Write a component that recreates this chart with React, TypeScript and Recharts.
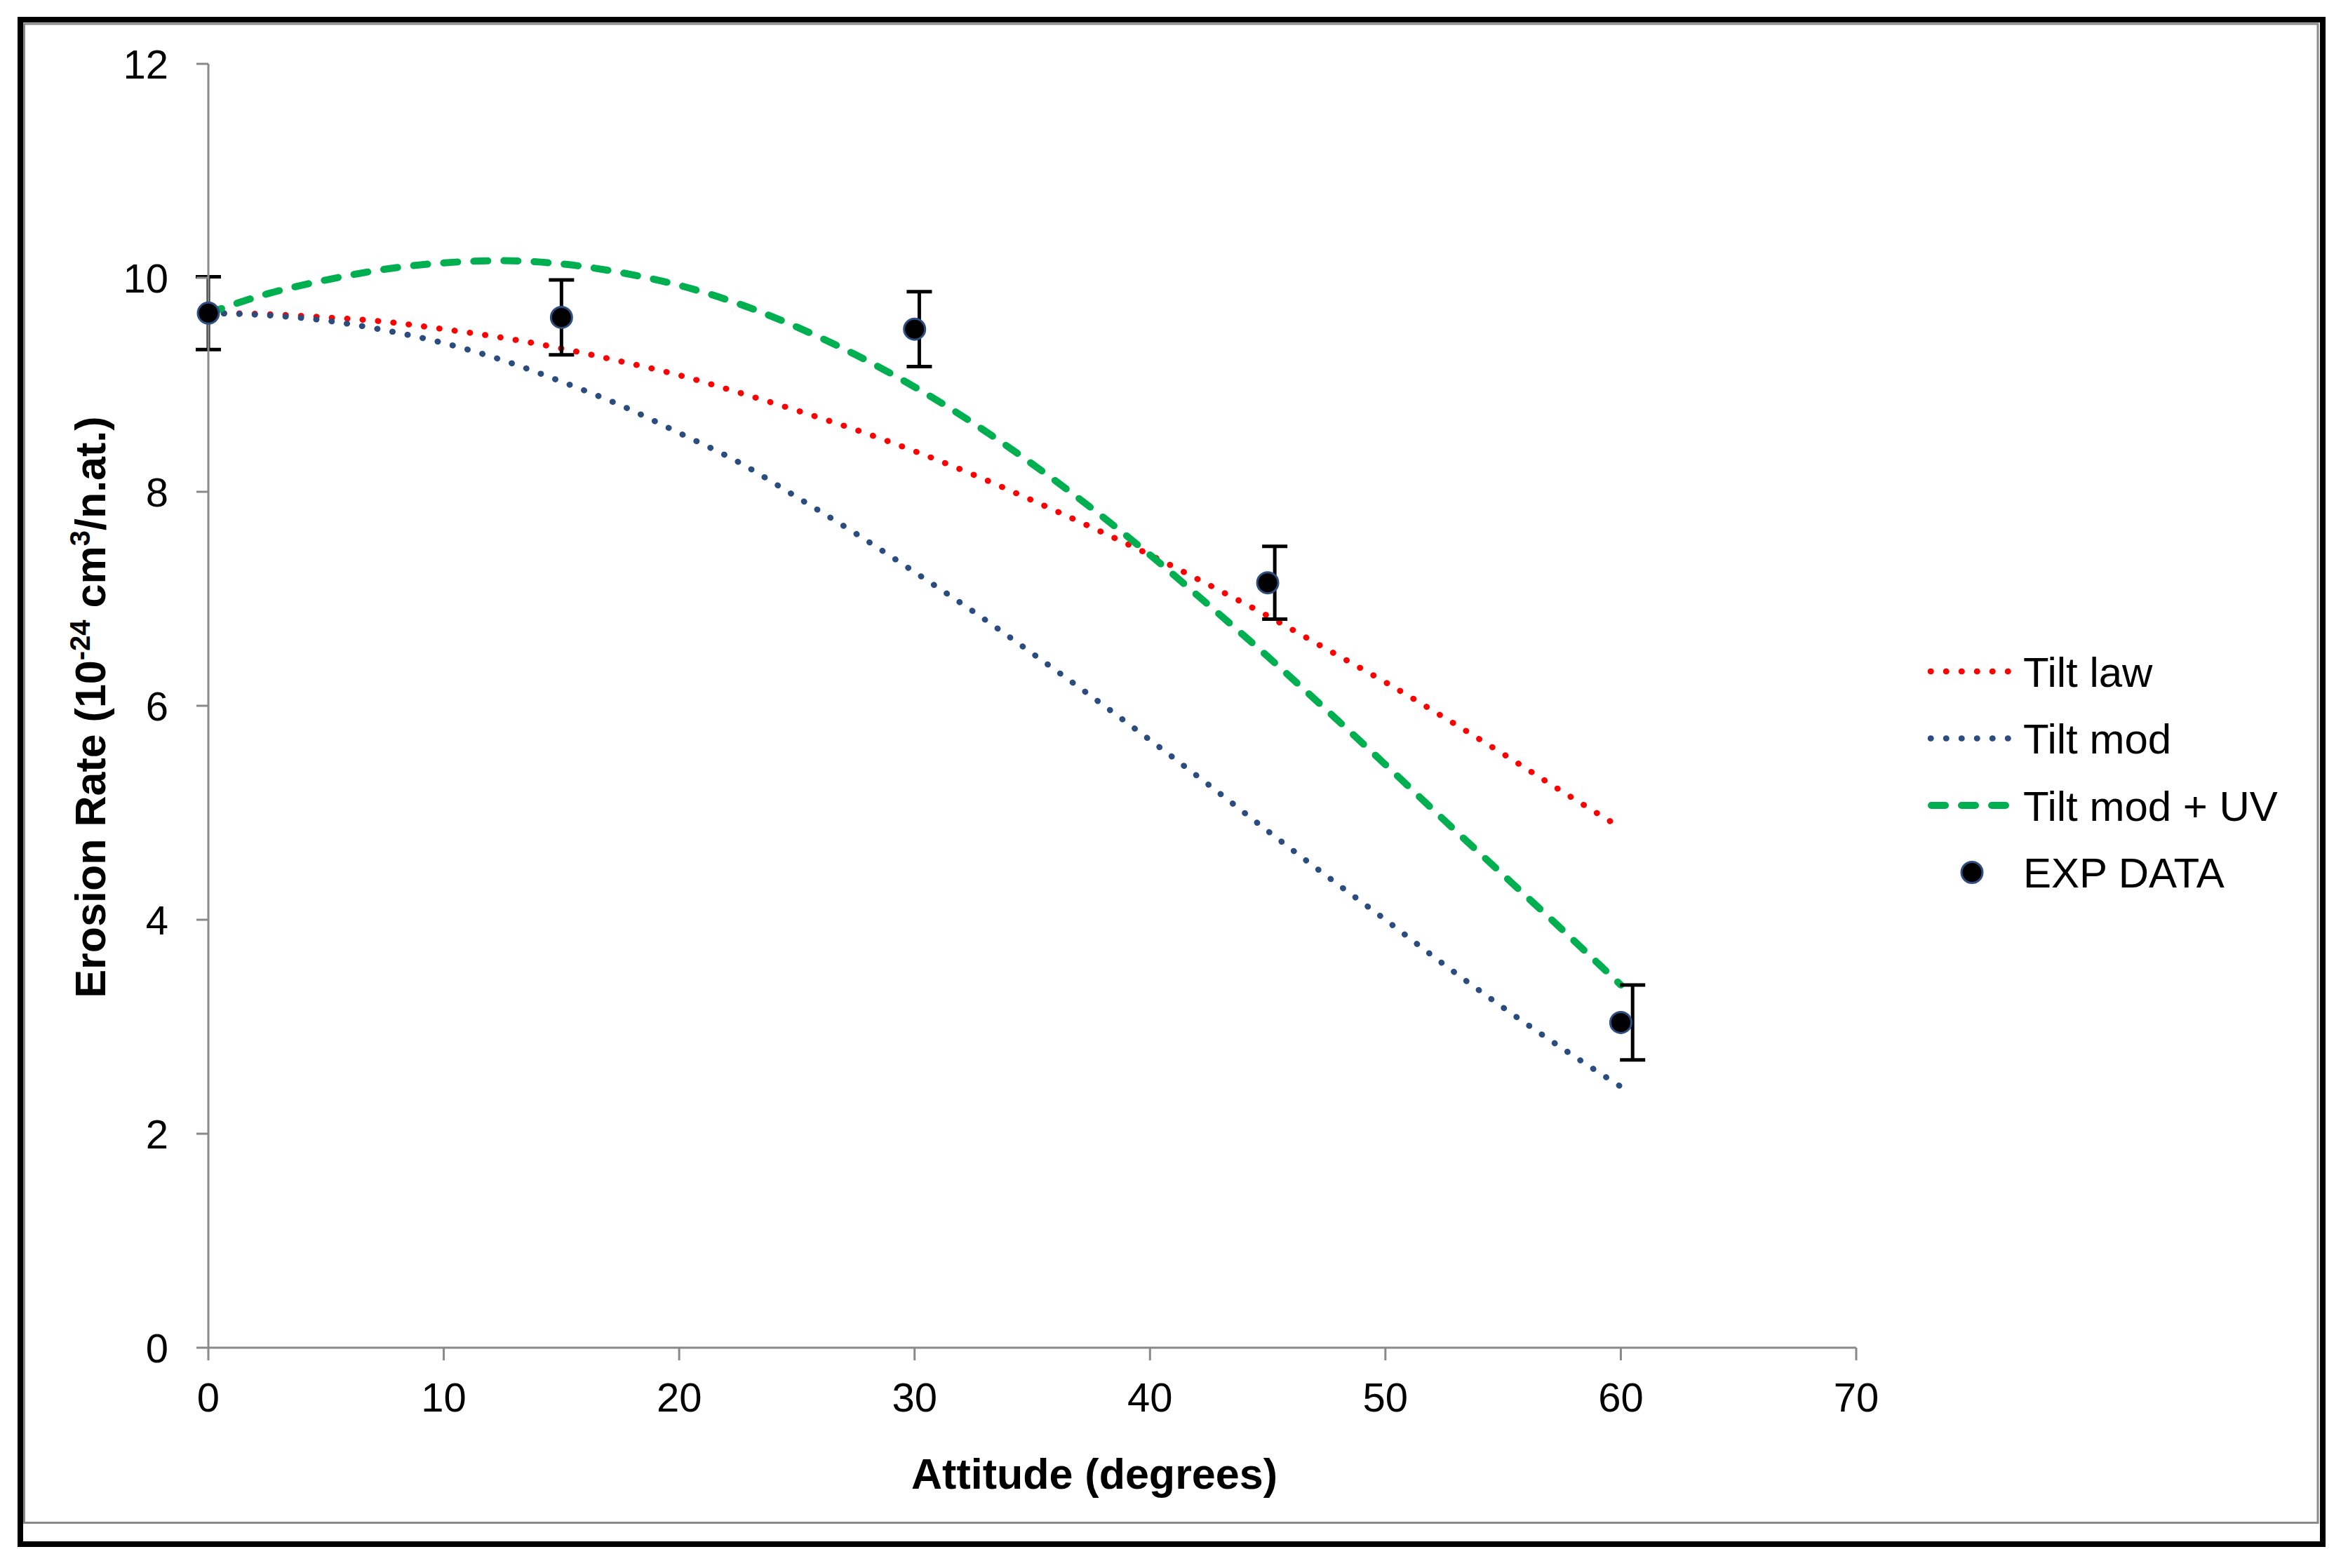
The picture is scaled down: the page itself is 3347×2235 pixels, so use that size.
import React from 'react';
import {
  ComposedChart, Line, Scatter, ErrorBar, XAxis, YAxis,
} from 'recharts';

// Attitude grid of the model curves (degrees)
const angle = [0, 2.5, 5, 7.5, 10, 12.5, 15, 17.5, 20, 22.5, 25, 27.5, 30, 32.5, 35, 37.5, 40, 42.5, 45, 47.5, 50, 52.5, 55, 57.5, 60];

// Erosion rate, 10^-24 cm3/n.at.
const tiltLaw = [9.67, 9.66, 9.63, 9.59, 9.52, 9.44, 9.34, 9.22, 9.09, 8.93, 8.76, 8.58, 8.38, 8.16, 7.92, 7.67, 7.41, 7.13, 6.84, 6.53, 6.22, 5.89, 5.55, 5.2, 4.86];
const tiltMod = [9.67, 9.65, 9.6, 9.51, 9.39, 9.23, 9.03, 8.81, 8.55, 8.28, 7.95, 7.61, 7.25, 6.88, 6.49, 6.09, 5.68, 5.26, 4.83, 4.41, 4.0, 3.58, 3.18, 2.8, 2.44];
const tiltModUV = [9.67, 9.85, 9.98, 10.08, 10.14, 10.16, 10.13, 10.05, 9.93, 9.76, 9.54, 9.28, 8.98, 8.64, 8.26, 7.85, 7.41, 6.94, 6.46, 5.96, 5.45, 4.93, 4.42, 3.91, 3.39];

// Experimental points
const expAngle = [0, 15, 30, 45, 60];
const expRate = [9.67, 9.63, 9.52, 7.15, 3.04];
const expErr = [0.34, 0.35, 0.35, 0.34, 0.35];
// error bars sit a touch right of their points in the original
const errAngle = [0, 15, 30.2, 45.3, 60.5];

const xTicks = [0, 10, 20, 30, 40, 50, 60, 70];
const yTicks = [0, 2, 4, 6, 8, 10, 12];

const RED = '#FF0000';
const BLUE = '#2B4C7E';
const GREEN = '#00B050';
const AXIS = '#898989';
const FONT = '"Liberation Sans", Arial, sans-serif';

const toXY = (xs: number[], ys: number[]) => xs.map((x, i) => ({ x, y: ys[i] }));

const lawData = toXY(angle, tiltLaw);
const modData = toXY(angle, tiltMod);
const uvData = toXY(angle, tiltModUV);
const expData = toXY(expAngle, expRate);
const errData = errAngle.map((x, i) => ({ x, y: expRate[i], err: expErr[i] }));

const DOT_DASH = '0.5 21.5';
const LONG_DASH = '20 23';

function ExpDot(props: any) {
  const { cx, cy } = props;
  if (cx == null || cy == null) return <g />;
  return <circle cx={cx} cy={cy} r={15} fill="#000" stroke="#2F4F80" strokeWidth={3} />;
}

const legendRows = [
  { label: 'Tilt law', kind: 'dot', color: RED },
  { label: 'Tilt mod', kind: 'dot', color: BLUE },
  { label: 'Tilt mod + UV', kind: 'dash', color: GREEN },
  { label: 'EXP DATA', kind: 'marker', color: '#000' },
];

export default function App() {
  return (
    <div style={{ position: 'absolute', left: 0, top: 0, width: 3347, height: 2235, background: '#fff' }}>
      <ComposedChart
        width={3347}
        height={2235}
        margin={{ top: 91, right: 701, left: 147, bottom: 214 }}
      >
        <XAxis
          type="number"
          dataKey="x"
          domain={[0, 70]}
          ticks={xTicks}
          interval={0}
          height={100}
          tickSize={18}
          tickMargin={32}
          axisLine={{ stroke: AXIS, strokeWidth: 3 }}
          tickLine={{ stroke: AXIS, strokeWidth: 3 }}
          tick={{ fill: '#000', fontSize: 58, fontFamily: FONT }}
        />
        <YAxis
          type="number"
          dataKey="y"
          domain={[0, 12]}
          ticks={yTicks}
          interval={0}
          width={150}
          tickSize={17}
          tickMargin={40}
          axisLine={{ stroke: AXIS, strokeWidth: 3 }}
          tickLine={{ stroke: AXIS, strokeWidth: 3 }}
          tick={{ fill: '#000', fontSize: 58, fontFamily: FONT }}
        />

        <Line data={lawData} dataKey="y" type="monotone" stroke={RED} strokeWidth={8.5}
          strokeDasharray={DOT_DASH} strokeLinecap="round" dot={false} activeDot={false}
          isAnimationActive={false} />
        <Line data={modData} dataKey="y" type="monotone" stroke={BLUE} strokeWidth={8.5}
          strokeDasharray={DOT_DASH} strokeLinecap="round" dot={false} activeDot={false}
          isAnimationActive={false} />
        <Line data={uvData} dataKey="y" type="monotone" stroke={GREEN} strokeWidth={10}
          strokeDasharray={LONG_DASH} strokeLinecap="round" dot={false} activeDot={false}
          isAnimationActive={false} />

        <Scatter data={errData} dataKey="y" shape={() => <g />} isAnimationActive={false}>
          <ErrorBar dataKey="err" direction="y" width={18} stroke="#000" strokeWidth={5} />
        </Scatter>
        <Scatter data={expData} dataKey="y" shape={<ExpDot />} isAnimationActive={false} />
      </ComposedChart>

      <svg
        width={3347}
        height={2235}
        style={{ position: 'absolute', left: 0, top: 0, pointerEvents: 'none' }}
        fontFamily={FONT}
      >
        {/* outer black frame + grey chart-area border */}
        <rect x={29} y={28} width={3282} height={2173} fill="none" stroke="#000" strokeWidth={8} />
        <rect x={34.5} y={34} width={3269.5} height={2136.5} fill="none" stroke={AXIS} strokeWidth={3} />

        <text x={1560} y={2122} textAnchor="middle" fontSize={61} fontWeight="bold" fill="#000">
          Attitude (degrees)
        </text>

        <text
          transform="translate(150,1008) rotate(-90)"
          textAnchor="middle"
          fontSize={61}
          fontWeight="bold"
          fill="#000"
        >
          Erosion Rate (10<tspan dy={-22} fontSize={40}>-24</tspan>
          <tspan dy={22}> cm</tspan>
          <tspan dy={-22} fontSize={40}>3</tspan>
          <tspan dy={22}>/n.at.)</tspan>
        </text>

        {legendRows.map((r, i) => {
          const cy = 957 + i * 95.5;
          return (
            <g key={r.label}>
              {r.kind === 'dot' && (
                <line x1={2752} y1={cy} x2={2866} y2={cy} stroke={r.color} strokeWidth={8.5}
                  strokeDasharray={DOT_DASH} strokeLinecap="round" />
              )}
              {r.kind === 'dash' && (
                <line x1={2753} y1={cy} x2={2864} y2={cy} stroke={r.color} strokeWidth={10}
                  strokeDasharray={LONG_DASH} strokeLinecap="round" />
              )}
              {r.kind === 'marker' && (
                <circle cx={2811} cy={cy} r={15} fill="#000" stroke="#2F4F80" strokeWidth={3} />
              )}
              <text x={2884} y={cy + 21.5} fontSize={60} fill="#000">{r.label}</text>
            </g>
          );
        })}
      </svg>
    </div>
  );
}
